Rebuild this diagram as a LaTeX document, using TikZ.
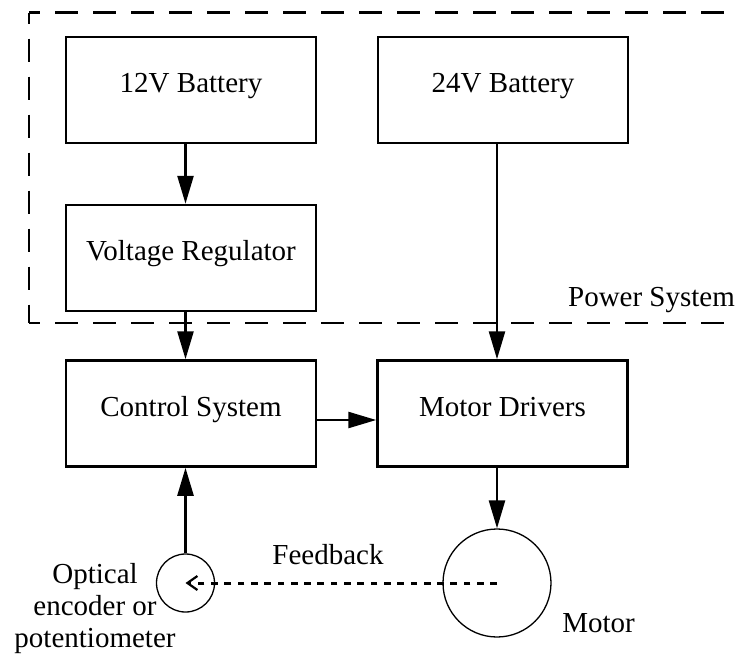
\documentclass[tikz,border=0pt]{standalone}
\usepackage{fontspec}
\setmainfont{Liberation Serif}
\usetikzlibrary{arrows.meta,calc}
\begin{document}
\begin{tikzpicture}[x=1pt,y=-1pt,
  font=\fontsize{29}{32}\selectfont,
  blk/.style={draw,line width=2.5pt,minimum width=250pt,minimum height=106pt,inner sep=0pt,text height=20pt,text depth=15pt},
  ring/.style={draw,circle,line width=1.3pt,inner sep=0pt},
  arr/.style={line width=2.5pt,-{Triangle[length=28pt,width=16pt]}},
  frame/.style={line width=2.5pt,dash pattern=on 23.3pt off 14.7pt,dash phase=12pt},
  fb/.style={line width=3pt,dash pattern=on 6.7pt off 6.6pt,-{Straight Barb[length=10pt,width=14pt,line width=2.2pt]}},
  lbl/.style={inner sep=0pt,anchor=base}
]
\useasboundingbox (0,0) rectangle (739,656);
% dashed power-system frame (right side lies beyond the picture)
\coordinate (ftl) at (29,12.7);
\coordinate (fbl) at (29,323);
\coordinate (ftr) at (739,12.7);
\coordinate (fbr) at (739,323);
\draw[frame] (ftl) -- (fbl);
\draw[frame] (ftl) -- (ftr);
\draw[frame] (fbl) -- (fbr);
\node[lbl] (ps) at (651.5,306.7) {Power System};
% blocks
\node[blk] (b12) at (191,90) {12V Battery};
\node[blk] (b24) at (503,90) {24V Battery};
\node[blk] (vr) at (191,258) {Voltage Regulator};
\node[blk] (cs) at (191,413.5) {Control System};
\node[blk] (md) at (502.5,413.5) {Motor Drivers};
% circles
\node[ring,minimum size=58pt] (enc) at (185.5,583) {};
\node[ring,minimum size=108pt] (motor) at (497,583) {};
% labels
\node[inner sep=0pt,align=center,anchor=center] (enctxt) at (95,608.3) {Optical\\encoder or\\potentiometer};
\node[lbl] (mtxt) at (598.5,632) {Motor};
\node[lbl] (fbtxt) at (328,564.3) {Feedback};
% connectors
\draw[arr] (b12.south -| enc.center) -- (vr.north -| enc.center);
\draw[arr] (vr.south -| enc.center) -- (cs.north -| enc.center);
\draw[arr] (b24.south -| motor.center) -- (md.north -| motor.center);
\draw[arr] ([yshift=-6.5pt]cs.east) -- ([yshift=-6.5pt]md.west);
\draw[arr] (md.south -| motor.center) -- (motor.north);
\draw[arr] (enc.north) -- (cs.south -| enc.center);
\draw[fb] (motor.center) -- (enc.center);
\end{tikzpicture}
\end{document}
